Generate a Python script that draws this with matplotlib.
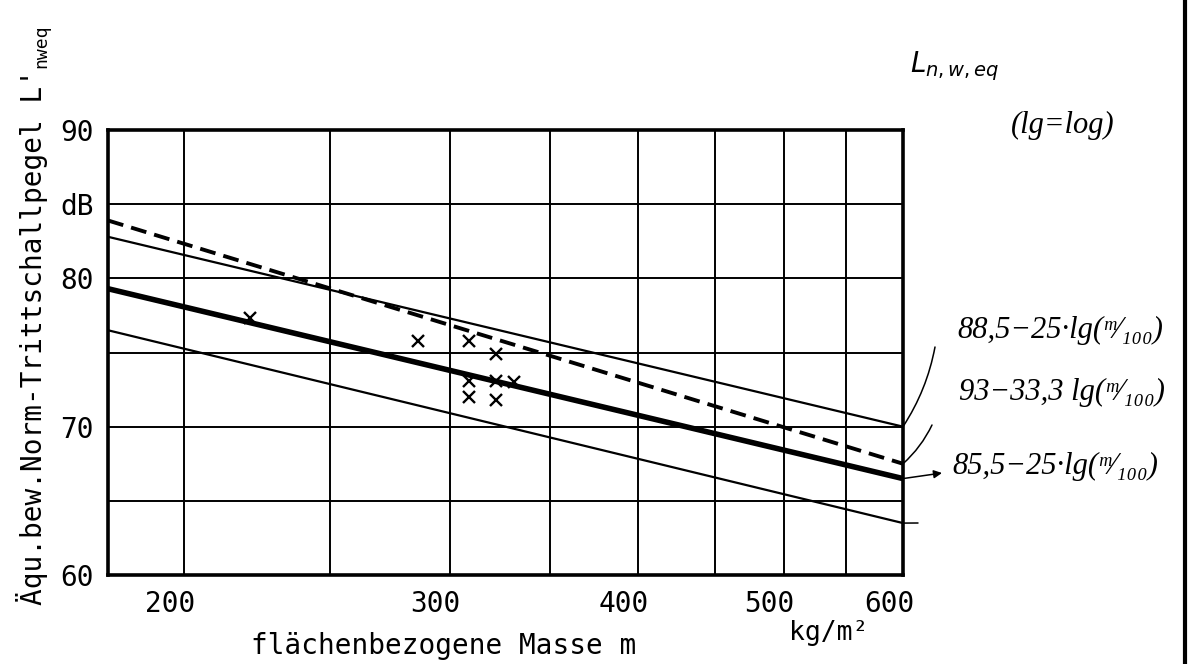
import matplotlib
matplotlib.use("Agg")
import matplotlib.pyplot as plt
from matplotlib.ticker import FixedLocator, FixedFormatter, NullLocator
from matplotlib.transforms import ScaledTranslation
from matplotlib.lines import Line2D

# Geraden: Werte am linken und rechten Diagrammrand
masse_enden = [178, 600]
obere_grenze = [82.8, 70.0]     # 88,5 - 25 lg(m/100)
gestrichelt = [83.9, 67.5]      # 93 - 33,3 lg(m/100)
mittelwert = [79.3, 66.5]       # 85,5 - 25 lg(m/100)
untere_grenze = [76.5, 63.5]

# Messpunkte (x)
mess_m = [221, 286, 309, 322, 309, 309, 322, 331, 322]
mess_L = [77.3, 75.8, 75.8, 74.9, 73.1, 72.0, 73.1, 73.0, 71.8]

x_ticks = [200, 250, 300, 350, 400, 450, 500, 550, 600]
x_labels = ["200", "", "300", "", "400", "", "500", "", "600"]
y_ticks = [60, 65, 70, 75, 80, 85, 90]
y_labels = ["60", "", "70", "", "80", "dB", "90"]

formeln = ["88,5−25·lg(ᵐ⁄₁₀₀)", "93−33,3 lg(ᵐ⁄₁₀₀)", "85,5−25·lg(ᵐ⁄₁₀₀)"]

W, H = 1192, 664
def fx(px):
    return px / W
def fy(py):
    return 1 - py / H

mono = "DejaVu Sans Mono"
hand = ["Liberation Serif", "DejaVu Serif"]

fig = plt.figure(figsize=(W / 100, H / 100), dpi=100)
ax = fig.add_axes([fx(108), fy(575), (903 - 108) / W, (575 - 130) / H])

ax.set_xscale("log")
ax.set_xlim(178, 600)
ax.set_ylim(60, 90)

ax.plot(masse_enden, obere_grenze, color="black", lw=1.6)
ax.plot(masse_enden, untere_grenze, color="black", lw=1.6)
ax.plot(masse_enden, mittelwert, color="black", lw=4.0, solid_capstyle="butt")
ax.plot(masse_enden, gestrichelt, color="black", lw=2.8, dashes=(4.1, 2.1))
ax.plot(mess_m, mess_L, linestyle="none", marker="x", color="black",
        markersize=8, markeredgewidth=1.7)

ax.xaxis.set_major_locator(FixedLocator(x_ticks))
ax.xaxis.set_major_formatter(FixedFormatter(x_labels))
ax.xaxis.set_minor_locator(NullLocator())
ax.yaxis.set_major_locator(FixedLocator(y_ticks))
ax.yaxis.set_major_formatter(FixedFormatter(y_labels))
ax.grid(True, color="black", lw=1.4)
ax.tick_params(length=0, labelsize=20)
ax.tick_params(axis="x", pad=11)
ax.tick_params(axis="y", pad=10)
for lab in ax.get_xticklabels() + ax.get_yticklabels():
    lab.set_family(mono)
for lab in ax.get_xticklabels():
    lab.set_transform(lab.get_transform() + ScaledTranslation(-0.14, 0, fig.dpi_scale_trans))
for sp in ax.spines.values():
    sp.set_linewidth(2.6)

# Achsenbeschriftungen
fig.text(fx(32), fy(605), "Äqu.bew.Norm-Trittschallpegel L'", rotation=90,
         ha="center", va="bottom", fontsize=20, family=mono)
fig.text(fx(41), fy(68), "nweq", rotation=90, ha="center", va="bottom",
         fontsize=13, family=mono)
fig.text(fx(444), fy(646), "flächenbezogene Masse m", ha="center", va="center",
         fontsize=20, family=mono)
fig.text(fx(829), fy(633), "kg/m²", ha="center", va="center",
         fontsize=19, family=mono)

# handschriftliche Ergänzungen
fig.text(fx(955), fy(66), "$L_{n,w,eq}$", ha="center", va="center",
         fontsize=20, color="black")
fig.text(fx(1063), fy(125), "(lg=log)", ha="center", va="center",
         fontsize=22, style="italic", family=hand)
fig.text(fx(1060), fy(330), formeln[0], ha="center", va="center",
         fontsize=22, style="italic", family=hand)
fig.text(fx(1062), fy(392), formeln[1], ha="center", va="center",
         fontsize=22, style="italic", family=hand)
fig.text(fx(1055), fy(466), formeln[2], ha="center", va="center",
         fontsize=22, style="italic", family=hand)

kw = dict(color="black", lw=1.1, shrinkA=0, shrinkB=0)
ax.annotate("", xy=(600, obere_grenze[1]), xytext=(935, H - 347),
            textcoords="figure pixels", annotation_clip=False,
            arrowprops=dict(arrowstyle="-", connectionstyle="arc3,rad=-0.1", **kw))
ax.annotate("", xy=(600, gestrichelt[1]), xytext=(932, H - 425),
            textcoords="figure pixels", annotation_clip=False,
            arrowprops=dict(arrowstyle="-", connectionstyle="arc3,rad=-0.1", **kw))
ax.annotate("", xy=(942, H - 473), xycoords="figure pixels",
            xytext=(600, mittelwert[1]), textcoords="data", annotation_clip=False,
            arrowprops=dict(arrowstyle="-|>", mutation_scale=12, **kw))
ax.annotate("", xy=(918, H - 523), xycoords="figure pixels",
            xytext=(600, untere_grenze[1]), textcoords="data", annotation_clip=False,
            arrowprops=dict(arrowstyle="-", **kw))

# Blattrand rechts
fig.add_artist(Line2D([fx(1185), fx(1185)], [0, 1], color="black", lw=3))

fig.savefig("out.png", dpi=100)
